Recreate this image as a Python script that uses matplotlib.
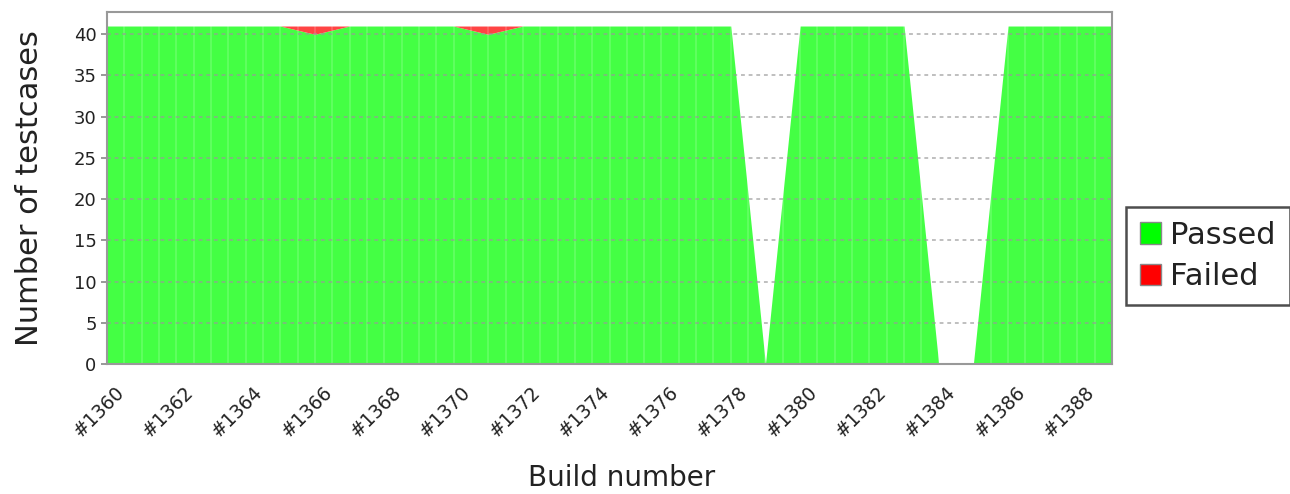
import numpy as np
import matplotlib.pyplot as plt
import matplotlib.transforms as mtransforms
from matplotlib.patches import Patch

# builds #1360 .. #1389
builds = list(range(1360, 1390))
passed = [41, 41, 41, 41, 41, 41, 40, 41, 41, 41,
          41, 40, 41, 41, 41, 41, 41, 41, 41, 0,
          41, 41, 41, 41, 0, 0, 41, 41, 41, 41]
failed = [0, 0, 0, 0, 0, 0, 1, 0, 0, 0,
          0, 1, 0, 0, 0, 0, 0, 0, 0, 0,
          0, 0, 0, 0, 0, 0, 0, 0, 0, 0]
labels = ['#%d' % b for b in builds]

green = '#44ff44'
red = '#ff4444'

fig = plt.figure(figsize=(12.9, 4.94), dpi=100)
ax = fig.add_axes([107/1290, 130/494, 1005/1290, 352/494])

x = np.arange(len(builds))
p = np.array(passed)
f = np.array(failed)
ax.fill_between(x, 0, p, color=green, linewidth=0, zorder=1)
ax.fill_between(x, p, p + f, color=red, linewidth=0, zorder=1)

# faint vertical lines inside the area
for xv in np.arange(0.5, len(builds) - 1, 0.5):
    ax.axvline(xv, color='white', alpha=0.18, linewidth=1.2, zorder=2)

ax.set_xlim(0, len(builds) - 1)
ax.set_ylim(0, 42.7)
ax.set_yticks(range(0, 41, 5))
for yv in range(5, 41, 5):
    ax.axhline(yv, color='#999999', linestyle=(0, (2.5, 2.5)), linewidth=1.1,
               alpha=0.8, zorder=3)

# category labels, every second build, rotated
ax.set_xticks([])
trans = ax.get_xaxis_transform() + mtransforms.ScaledTranslation(
    0.14, -0.25, fig.dpi_scale_trans)
for i in x[::2]:
    ax.text(i, 0, labels[i], rotation=45, ha='right', va='center',
            rotation_mode='anchor', fontsize=13.5, color='#222222',
            transform=trans, clip_on=False)
ax.tick_params(axis='y', labelsize=13, labelcolor='#222222', color='#888888',
               length=4, width=1.2)

for side in ['left', 'right', 'top', 'bottom']:
    ax.spines[side].set_color('#999999')
    ax.spines[side].set_linewidth(1.5)
    ax.spines[side].set_zorder(4)

ax.set_ylabel('Number of testcases', fontsize=22, color='#222222', labelpad=21)
fig.text(622/1290, 1 - 478/494, 'Build number', fontsize=20, color='#222222',
         ha='center', va='center')

handles = [Patch(facecolor='#00ff00', edgecolor='#888888', label='Passed'),
           Patch(facecolor='#ff0000', edgecolor='#888888', label='Failed')]
leg = fig.legend(handles=handles, loc='center left',
                 bbox_to_anchor=(1126/1290, 1 - 256/494),
                 fontsize=22, frameon=True, fancybox=False,
                 handlelength=0.7, handleheight=0.7, handletextpad=0.3,
                 borderpad=0.45, labelspacing=0.4, borderaxespad=0)
leg.get_frame().set_edgecolor('#222222')
leg.get_frame().set_linewidth(1.8)
for t in leg.get_texts():
    t.set_color('#222222')

fig.savefig('out.png', dpi=100)
